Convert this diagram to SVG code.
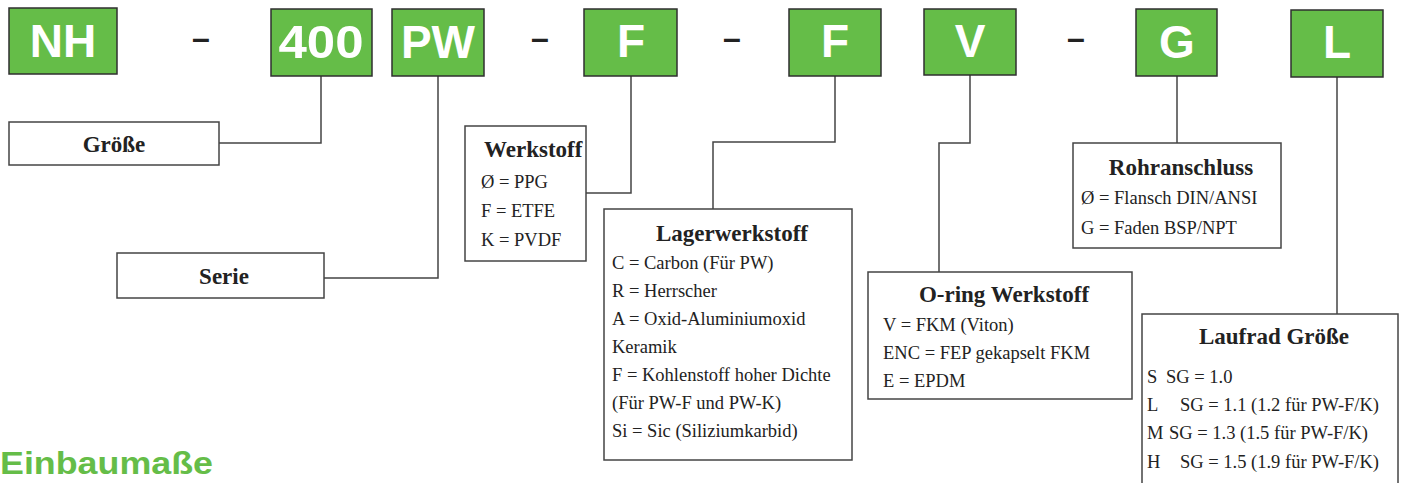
<svg xmlns="http://www.w3.org/2000/svg" width="1402" height="483" viewBox="0 0 1402 483">
<style>
.code{fill:#65bd48;stroke:#2f2f2f;stroke-width:1.5}
.ct{font-family:"Liberation Sans",Arial,sans-serif;font-weight:bold;font-size:46px;fill:#fff;text-anchor:middle}
.dash{font-family:"Liberation Sans",Arial,sans-serif;font-weight:bold;font-size:32px;fill:#222;text-anchor:middle}
.box{fill:#fff;stroke:#444;stroke-width:1.5}
.ttl{font-family:"Liberation Serif","Times New Roman",serif;font-weight:bold;font-size:23px;fill:#222}
.mid{text-anchor:middle}
.bd{font-family:"Liberation Serif","Times New Roman",serif;font-size:18.5px;fill:#222}
.conn{fill:none;stroke:#444;stroke-width:1.5}
.head{font-family:"Liberation Sans",Arial,sans-serif;font-weight:bold;font-size:32px;fill:#65bd48}
</style>
<rect width="1402" height="483" fill="#fff"/>
<g id="connectors">
<path class="conn" d="M321 76 V143 H219"/>
<path class="conn" d="M438 76 V278 H324"/>
<path class="conn" d="M631 76 V193 H586"/>
<path class="conn" d="M835 76 V142 H713 V209"/>
<path class="conn" d="M970 75 V143 H939 V272"/>
<path class="conn" d="M1177 76 V143"/>
<path class="conn" d="M1337 77 V314"/>
</g>
<g id="code-NH"><rect class="code" x="9" y="8" width="108" height="66"/><text class="ct" x="63" y="57">NH</text></g>
<g id="dash1"><text class="dash" x="201" y="49">–</text></g>
<g id="code-400"><rect class="code" x="271" y="9" width="101" height="67"/><text class="ct" x="321" y="58" textLength="85" lengthAdjust="spacingAndGlyphs">400</text></g>
<g id="code-PW"><rect class="code" x="392" y="9" width="92" height="67"/><text class="ct" x="438" y="58">PW</text></g>
<g id="dash2"><text class="dash" x="540" y="49">–</text></g>
<g id="code-F1"><rect class="code" x="584" y="9" width="93" height="67"/><text class="ct" x="631" y="57">F</text></g>
<g id="dash3"><text class="dash" x="732" y="49">–</text></g>
<g id="code-F2"><rect class="code" x="789" y="9" width="92" height="67"/><text class="ct" x="835" y="57">F</text></g>
<g id="code-V"><rect class="code" x="924" y="9" width="92" height="66"/><text class="ct" x="970" y="57">V</text></g>
<g id="dash4"><text class="dash" x="1076" y="49">–</text></g>
<g id="code-G"><rect class="code" x="1136" y="9" width="81" height="67"/><text class="ct" x="1177" y="58">G</text></g>
<g id="code-L"><rect class="code" x="1291" y="10" width="92" height="67"/><text class="ct" x="1337" y="58">L</text></g>

<g id="groesse"><rect class="box" x="9" y="122" width="210" height="43"/><text class="ttl mid" x="114" y="152">Größe</text></g>
<g id="serie"><rect class="box" x="117" y="253" width="207" height="45"/><text class="ttl mid" x="224" y="284">Serie</text></g>
<g id="werkstoff"><rect class="box" x="465" y="126" width="121" height="135"/>
<text class="ttl" x="484" y="157">Werkstoff</text>
<text class="bd" x="481" y="188">Ø = PPG</text>
<text class="bd" x="481" y="217">F = ETFE</text>
<text class="bd" x="481" y="246">K = PVDF</text></g>
<g id="lagerwerkstoff"><rect class="box" x="604" y="209" width="248" height="251"/>
<text class="ttl mid" x="732" y="241">Lagerwerkstoff</text>
<text class="bd" x="612" y="269">C = Carbon (Für PW)</text>
<text class="bd" x="612" y="297">R = Herrscher</text>
<text class="bd" x="612" y="325">A = Oxid-Aluminiumoxid</text>
<text class="bd" x="612" y="353">Keramik</text>
<text class="bd" x="612" y="381">F = Kohlenstoff hoher Dichte</text>
<text class="bd" x="612" y="409">(Für PW-F und PW-K)</text>
<text class="bd" x="612" y="437">Si = Sic (Siliziumkarbid)</text></g>
<g id="oring"><rect class="box" x="868" y="272" width="264" height="127"/>
<text class="ttl mid" x="1004" y="302">O-ring Werkstoff</text>
<text class="bd" x="883" y="331">V = FKM (Viton)</text>
<text class="bd" x="883" y="359">ENC = FEP gekapselt FKM</text>
<text class="bd" x="883" y="387">E = EPDM</text></g>
<g id="rohranschluss"><rect class="box" x="1073" y="143" width="208" height="105"/>
<text class="ttl mid" x="1181" y="175">Rohranschluss</text>
<text class="bd" x="1081" y="204">Ø = Flansch DIN/ANSI</text>
<text class="bd" x="1081" y="234">G = Faden BSP/NPT</text></g>
<g id="laufrad"><rect class="box" x="1142" y="314" width="256" height="180"/>
<text class="ttl mid" x="1274" y="344">Laufrad Größe</text>
<text class="bd" y="383"><tspan x="1147">S</tspan><tspan x="1166">SG = 1.0</tspan></text>
<text class="bd" y="411"><tspan x="1147">L</tspan><tspan x="1180">SG = 1.1 (1.2 für PW-F/K)</tspan></text>
<text class="bd" y="439"><tspan x="1147">M</tspan><tspan x="1169">SG = 1.3 (1.5 für PW-F/K)</tspan></text>
<text class="bd" y="468"><tspan x="1147">H</tspan><tspan x="1180">SG = 1.5 (1.9 für PW-F/K)</tspan></text></g>
<text class="head" x="0" y="474" textLength="213" lengthAdjust="spacingAndGlyphs">Einbaumaße</text>
</svg>
